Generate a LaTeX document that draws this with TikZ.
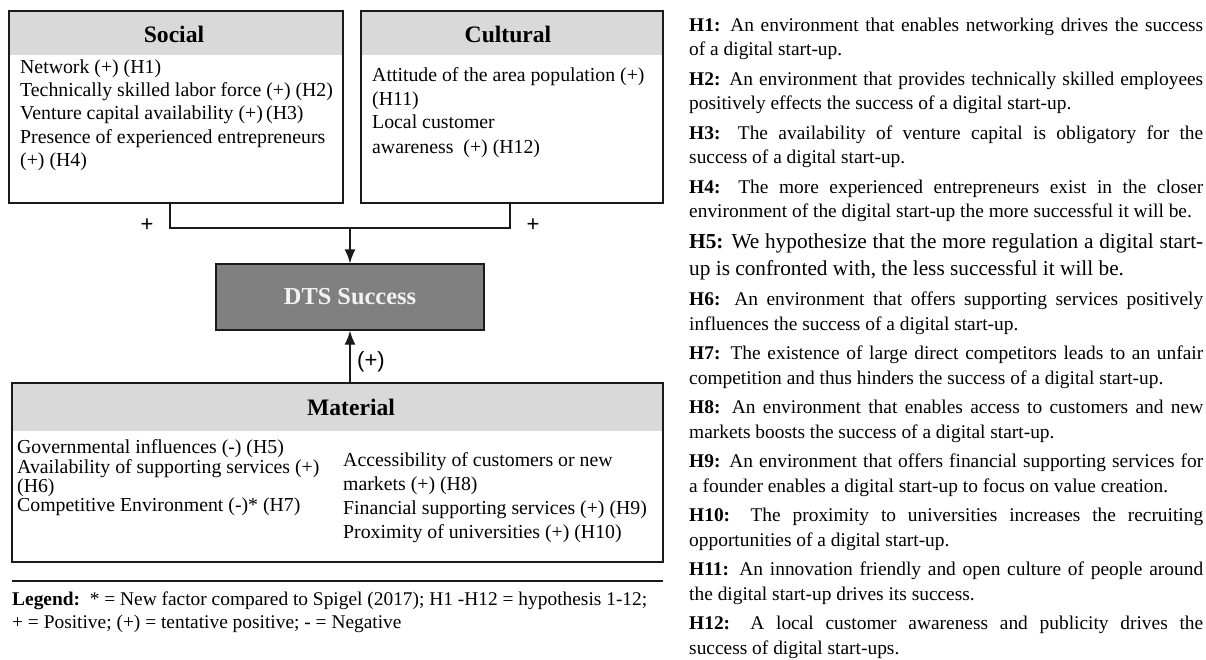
\documentclass[tikz,border=0pt]{standalone}
\usepackage{fontspec}
\setmainfont{Liberation Serif}
\newfontfamily\sansf{Liberation Sans}
\usetikzlibrary{arrows.meta}
\definecolor{hdrgray}{HTML}{D9D9D9}
\definecolor{dtsgray}{HTML}{808080}
\definecolor{edge}{HTML}{1A1A1A}
\definecolor{dtstext}{HTML}{F2F2F2}
\newcommand\jline[1]{\makebox[514pt][s]{#1}}
\begin{document}
\begin{tikzpicture}[x=1pt,y=-1pt,
  box/.style={draw=edge, line width=1.4pt, inner sep=0, outer sep=0, anchor=north west},
  hdr/.style={fill=hdrgray},
  head/.style={inner sep=0, font=\bfseries\fontsize{23.6}{28}\selectfont},
  item/.style={anchor=base west, inner sep=0, font=\fontsize{19.8}{23}\selectfont},
  leg/.style={anchor=base west, inner sep=0, font=\fontsize{19.4}{23}\selectfont},
  hyp/.style={anchor=base west, inner sep=0, font=\fontsize{19.4}{24}\selectfont},
  hypbig/.style={anchor=base west, inner sep=0, font=\fontsize{21.3}{26}\selectfont},
  sgn/.style={inner sep=0, font=\sansf\fontsize{22}{26}\selectfont},
  conn/.style={draw=edge, line width=1.4pt},
  arr/.style={conn, -{Latex[length=14pt,width=11pt]}},
]
\useasboundingbox (0,0) rectangle (1206,659);

% ---- Social box
\fill[hdr] (9,11) rectangle (343,55);
\node[box, minimum width=334pt, minimum height=192pt] (social) at (9,11) {};
\node[head] (socialh) at (174,34) {Social};
\node[item] (s1) at (20,73) {Network (+) (H1)};
\node[item] (s2) at (20,96) {Technically skilled labor force (+) (H2)};
\node[item] (s3) at (20,119) {Venture capital availability (+)\,(H3)};
\node[item] (s4) at (20,143) {Presence of experienced entrepreneurs};
\node[item] (s5) at (20,166) {(+) (H4)};

% ---- Cultural box
\fill[hdr] (361,11) rectangle (663,55);
\node[box, minimum width=302pt, minimum height=192pt] (cultural) at (361,11) {};
\node[head] (culturalh) at (508,34) {Cultural};
\node[item] (c1) at (372,81) {Attitude of the area population (+)};
\node[item] (c2) at (372,105) {(H11)};
\node[item] (c3) at (372,128) {Local customer};
\node[item] (c4) at (372,153) {awareness\ \ (+) (H12)};

% ---- DTS Success
\node[draw=edge, line width=1.4pt, fill=dtsgray, minimum width=268pt, minimum height=66pt,
      text=dtstext, font=\bfseries\fontsize{24.4}{28}\selectfont, inner sep=0] (dts) at (350,297) {DTS Success};

% ---- Material box
\fill[hdr] (12,383) rectangle (663,431);
\node[box, minimum width=651pt, minimum height=179pt] (material) at (12,383) {};
\node[head] (materialh) at (351,407) {Material};
\node[item] (m1) at (17,453) {Governmental influences (-) (H5)};
\node[item] (m2) at (17,473) {Availability of supporting services (+)};
\node[item] (m3) at (17,492) {(H6)};
\node[item] (m4) at (17,511) {Competitive Environment (-)* (H7)};
\node[item] (m5) at (343,466) {Accessibility of customers or new};
\node[item] (m6) at (343,490) {markets (+) (H8)};
\node[item] (m7) at (343,514) {Financial supporting services (+) (H9)};
\node[item] (m8) at (343,538) {Proximity of universities (+) (H10)};

% ---- connectors
\coordinate (sj) at (170,228);
\coordinate (cj) at (510,228);
\draw[conn] (social.south -| sj) -- (sj) -- (cj) -- (cultural.south -| cj);
\draw[arr] (dts.north |- sj) -- (dts.north);
\draw[arr] (dts.south |- material.north) -- (dts.south);
\node[sgn] (plusl) at (147,225) {+};
\node[sgn] (plusr) at (533,225) {+};
\node[sgn, anchor=west] (plusm) at (357,362) {(+)};

% ---- legend
\draw[edge, line width=1.2pt] (12,581) -- (663,581);
\node[leg] (leg1) at (12,605) {\textbf{Legend:}\ \ * = New factor compared to Spigel (2017); H1 -H12 = hypothesis 1-12;};
\node[leg] (leg2) at (12,628) {+ = Positive; (+) = tentative positive; - = Negative};

% ---- hypotheses
\node[hyp] (h1a) at (689,31) {\jline{\textbf{H1:} An environment that enables networking drives the success}};
\node[hyp] (h1b) at (689,55) {of a digital start-up.};
\node[hyp] (h2a) at (689,85) {\jline{\textbf{H2:} An environment that provides technically skilled employees}};
\node[hyp] (h2b) at (689,109) {positively effects the success of a digital start-up.};
\node[hyp] (h3a) at (689,139) {\jline{\textbf{H3:} The availability of venture capital is obligatory for the}};
\node[hyp] (h3b) at (689,163) {success of a digital start-up.};
\node[hyp] (h4a) at (689,193) {\jline{\textbf{H4:} The more experienced entrepreneurs exist in the closer}};
\node[hyp] (h4b) at (689,217) {environment of the digital start-up the more successful it will be.};
\node[hypbig] (h5a) at (689,248.5) {\jline{\textbf{H5:} We hypothesize that the more regulation a digital start-}};
\node[hypbig] (h5b) at (689,275) {up is confronted with, the less successful it will be.};
\node[hyp] (h6a) at (689,305.5) {\jline{\textbf{H6:} An environment that offers supporting services positively}};
\node[hyp] (h6b) at (689,330) {influences the success of a digital start-up.};
\node[hyp] (h7a) at (689,359.5) {\jline{\textbf{H7:} The existence of large direct competitors leads to an unfair}};
\node[hyp] (h7b) at (689,384) {competition and thus hinders the success of a digital start-up.};
\node[hyp] (h8a) at (689,413.5) {\jline{\textbf{H8:} An environment that enables access to customers and new}};
\node[hyp] (h8b) at (689,438) {markets boosts the success of a digital start-up.};
\node[hyp] (h9a) at (689,467.5) {\jline{\textbf{H9:} An environment that offers financial supporting services for}};
\node[hyp] (h9b) at (689,492) {a founder enables a digital start-up to focus on value creation.};
\node[hyp] (h10a) at (689,521.5) {\jline{\textbf{H10:} The proximity to universities increases the recruiting}};
\node[hyp] (h10b) at (689,546) {opportunities of a digital start-up.};
\node[hyp] (h11a) at (689,575.5) {\jline{\textbf{H11:} An innovation friendly and open culture of people around}};
\node[hyp] (h11b) at (689,600) {the digital start-up drives its success.};
\node[hyp] (h12a) at (689,629.5) {\jline{\textbf{H12:} A local customer awareness and publicity drives the}};
\node[hyp] (h12b) at (689,654) {success of digital start-ups.};
\end{tikzpicture}
\end{document}
